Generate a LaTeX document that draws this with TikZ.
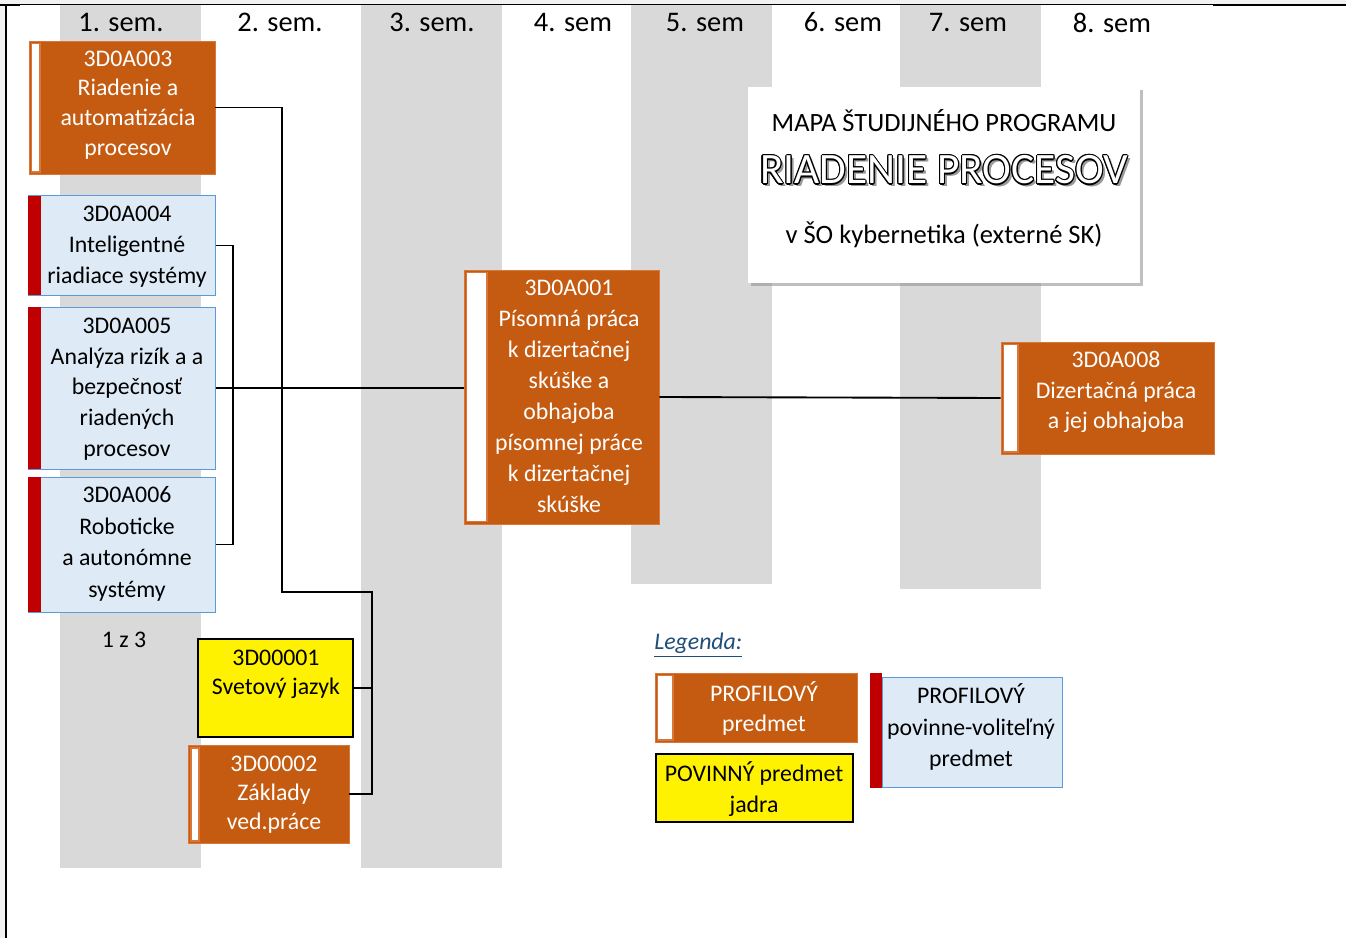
\documentclass[tikz,border=0pt]{standalone}
\usepackage{fontspec}
\setmainfont{Carlito}
\usetikzlibrary{fit,shadows}
\definecolor{orng}{HTML}{C55A11}
\definecolor{orngb}{HTML}{D9773A}
\definecolor{bluef}{HTML}{DEEBF7}
\definecolor{blueb}{HTML}{5B9BD5}
\definecolor{redst}{HTML}{C00000}
\definecolor{colg}{HTML}{D9D9D9}
\definecolor{legc}{HTML}{1F4E79}
\definecolor{edgeg}{HTML}{F2F2F2}
\begin{document}
\begin{tikzpicture}[x=0.75pt,y=-0.75pt,
  orangebox/.style={fill=orng, draw=orngb, line width=0.6pt, inner sep=0pt},
  bluebox/.style={fill=bluef, draw=blueb, line width=0.75pt, inner sep=0pt},
  yellowbox/.style={fill=yellow, draw=black, line width=1.5pt, inner sep=0pt},
  titlebox/.style={fill=white, inner sep=0pt, drop shadow={shadow xshift=2pt, shadow yshift=-2.5pt, fill=black!45, opacity=0.55}},
  wstrip/.style={fill=white, draw=orngb, line width=0.9pt},
  rstrip/.style={fill=redst},
  btext/.style={font=\fontsize{17.85}{23}\selectfont, align=center, inner sep=0pt, yshift=-1.9pt},
  semhead/.style={font=\fontsize{21.3}{25}\selectfont, inner sep=0pt},
  conn/.style={line width=1.4pt, draw=black},
  colbar/.style={fill=colg}]
\useasboundingbox (0,0) rectangle (1346,938);
\fill[white] (0,0) rectangle (1346,938);
% page edges
\fill[edgeg] (0,0) rectangle (5,938);
\fill[edgeg] (0,0) rectangle (1346,4);
% semester columns
\fill[colbar] (60,4) rectangle (201,868);
\fill[colbar] (361,4) rectangle (502,868);
\fill[colbar] (631,4) rectangle (772,584);
\fill[colbar] (900,4) rectangle (1041,589);
% frame lines
\draw[line width=0.75pt] (6,4.5) -- (1346,4.5);
\draw[line width=1.6pt] (1213,5.3) -- (1346,5.3);
\draw[line width=1.6pt] (0,5) -- (20,5);
\draw[line width=1.7pt] (6.3,4) -- (6.3,938);
% headers
\node[semhead] (h1) at (121,22) {1. sem.};
\node[semhead] (h2) at (280,22) {2. sem.};
\node[semhead] (h3) at (432,22) {3. sem.};
\node[semhead] (h4) at (573,22) {4. sem};
\node[semhead] (h5) at (705,22.5) {5. sem};
\node[semhead] (h6) at (843,22.5) {6. sem};
\node[semhead] (h7) at (968,22.5) {7. sem};
\node[semhead] (h8) at (1112,22.5) {8. sem};
% title box
\node[titlebox, fit={(748,87)(1140,283)}] (title) {};
\node[inner sep=0pt, font=\fontsize{19.8}{24}\selectfont] (tl1) at (944,121) {MAPA ŠTUDIJNÉHO PROGRAMU};
\foreach \dx/\dy [count=\i] in {2.2/-2.2, 1.8/-1.8}
  \node[inner sep=0pt, font=\fontsize{32.5}{38}\selectfont, text=black!40, xshift=\dx pt, yshift=\dy pt] (rs\i) at (944,170) {RIADENIE PROCESOV};
\foreach \a [count=\i] in {0,30,...,330}
  \node[inner sep=0pt, font=\fontsize{32.5}{38}\selectfont, text=black, xshift={0.85*cos(\a)*1pt}, yshift={0.85*sin(\a)*1pt}] (ro\i) at (944,170) {RIADENIE PROCESOV};
\node[inner sep=0pt, font=\fontsize{32.5}{38}\selectfont, text=white] (tl2) at (944,170) {RIADENIE PROCESOV};
\node[inner sep=0pt, font=\fontsize{19.9}{24}\selectfont] (tl3) at (944,235) {v ŠO kybernetika (externé SK)};
% 3D0A003
\node[orangebox, fit={(29,41)(215,174)}] (a003) {};
\draw[wstrip] (31.5,43.5) rectangle (40,172);
\node[btext, text=white, font=\fontsize{17.85}{22.3}\selectfont] (a003t) at (128,102.5) {3D0A003\\Riadenie a\\automatizácia\\procesov};
% 3D0A004
\node[bluebox, fit={(28,196)(215,295)}] (a004) {};
\fill[rstrip] (28,196) rectangle (41,295);
\node[btext, font=\fontsize{17.85}{23.3}\selectfont] (a004t) at (127,244) {3D0A004\\Inteligentné\\riadiace systémy};
% 3D0A005
\node[bluebox, fit={(28,307)(215,469)}] (a005) {};
\fill[rstrip] (28,307) rectangle (41,469);
\node[btext] (a005t) at (127,386.5) {3D0A005\\Analýza rizík a a\\bezpečnosť\\riadených\\procesov};
% 3D0A006
\node[bluebox, fit={(28,477)(215,612)}] (a006) {};
\fill[rstrip] (28,477) rectangle (41,612);
\node[btext, font=\fontsize{17.85}{23.7}\selectfont] (a006t) at (127,541.5) {3D0A006\\Roboticke\\a autonómne\\systémy};
\node[btext] (pg) at (124,637) {1 z 3};
% 3D0A001
\node[orangebox, fit={(464,270)(659,524)}] (a001) {};
\draw[wstrip] (466.5,272.5) rectangle (487,521.5);
\node[btext, text=white, font=\fontsize{17.85}{23.2}\selectfont] (a001t) at (569,394) {3D0A001\\Písomná práca\\k dizertačnej\\skúške a\\obhajoba\\písomnej práce\\k dizertačnej\\skúške};
% 3D0A008
\node[orangebox, fit={(1001,342)(1214,454)}] (a008) {};
\draw[wstrip] (1003.5,344.5) rectangle (1018,452);
\node[btext, text=white] (a008t) at (1116,389.5) {3D0A008\\Dizertačná práca\\a jej obhajoba};
% 3D00001
\node[yellowbox, fit={(198,639)(353,737)}] (y001) {};
\node[btext, font=\fontsize{17.85}{22}\selectfont] (y001t) at (276,671.5) {3D00001\\Svetový jazyk};
% 3D00002
\node[orangebox, fit={(188,745)(349,843)}] (b002) {};
\draw[wstrip] (191,748) rectangle (199,841);
\node[btext, text=white, font=\fontsize{17.85}{22}\selectfont] (b002t) at (274,792) {3D00002\\Základy\\ved.práce};
% connectors
\coordinate (j1) at (282,592);
\coordinate (j2) at (372,592);
\coordinate (k1) at (233,400);
\draw[conn] (a003.east) -| (j1) -- (j2) |- (b002.east);
\draw[conn] (y001.east) -- (y001.east -| j2);
\draw[conn] (a004.east) -| (k1) |- (a006.east);
\draw[conn] (a005.east) -- (a005.east -| a001.west);
\draw[conn] (a001.east) -- (a008.west);
% legend
\node[anchor=west, inner sep=0pt, text=legc, font=\fontsize{17.85}{22}\selectfont\itshape] (leg) at (654,645) {\underline{Legenda:}};
\node[orangebox, fit={(655,673)(857,742)}] (l1) {};
\draw[wstrip] (657.5,675.5) rectangle (673,740);
\node[btext, text=white, font=\fontsize{17.85}{22.5}\selectfont] (l1t) at (764,706) {PROFILOVÝ\\predmet};
\node[yellowbox, fit={(656,754)(853,822)}] (l2) {};
\node[btext, font=\fontsize{17.85}{23}\selectfont] (l2t) at (754,786.5) {POVINNÝ predmet\\jadra};
\node[bluebox, fit={(882,677)(1062,787)}] (l3) {};
\fill[rstrip] (870,673) rectangle (882,788);
\node[btext, font=\fontsize{17.85}{23.5}\selectfont] (l3t) at (971,724.5) {PROFILOVÝ\\povinne-voliteľný\\predmet};
\end{tikzpicture}
\end{document}
